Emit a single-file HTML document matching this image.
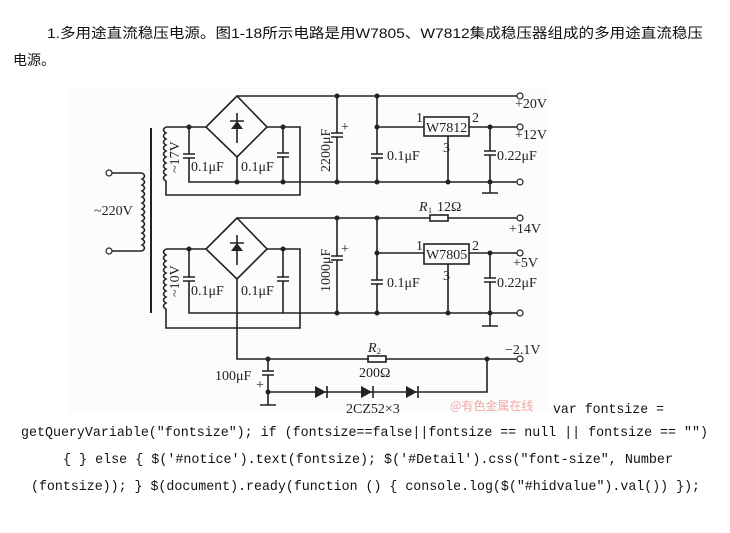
<!DOCTYPE html>
<html><head><meta charset="utf-8"><style>
html,body{margin:0;padding:0;background:#fff;width:730px;height:533px;overflow:hidden}
</style></head><body>
<svg width="730" height="533" viewBox="0 0 730 533" xmlns="http://www.w3.org/2000/svg">
<rect x="68" y="88" width="482" height="325" fill="#fcfcfc"/>
<g font-family="'Liberation Sans','Noto Sans CJK SC',sans-serif" font-size="14" fill="#111">
<text x="47" y="38" textLength="656" lengthAdjust="spacingAndGlyphs">1.多用途直流稳压电源。图1-18所示电路是用W7805、W7812集成稳压器组成的多用途直流稳压</text>
<text x="13" y="65" textLength="42" lengthAdjust="spacingAndGlyphs">电源。</text>
</g>
<g font-family="'Liberation Mono',monospace" font-size="14" fill="#111">
<text x="553" y="413" textLength="111" lengthAdjust="spacingAndGlyphs">var fontsize =</text>
<text x="21" y="436" textLength="687" lengthAdjust="spacingAndGlyphs">getQueryVariable("fontsize"); if (fontsize==false||fontsize == null || fontsize == "")</text>
<text x="63" y="463" textLength="610" lengthAdjust="spacingAndGlyphs">{ } else { $('#notice').text(fontsize); $('#Detail').css("font-size", Number</text>
<text x="31" y="490" textLength="669" lengthAdjust="spacingAndGlyphs">(fontsize)); } $(document).ready(function () { console.log($("#hidvalue").val()) });</text>
</g>
<text x="450" y="410" font-family="'Noto Sans CJK SC',sans-serif" font-size="12" fill="#f0a8a8">@有色金属在线</text>

<g stroke="#222" stroke-width="1.6" fill="none">
<path d="M109 173 H142 M109 251 H142"/>
<path d="M142 173 q5 3 0 6 q5 3 0 6 q5 3 0 6 q5 3 0 6 q5 3 0 6 q5 3 0 6 q5 3 0 6 q5 3 0 6 q5 3 0 6 q5 3 0 6 q5 3 0 6 q5 3 0 6 q5 3 0 6"/>
<path d="M151 128 V313" stroke-width="2"/>
<path d="M166 127 q-5 3 0 6 q-5 3 0 6 q-5 3 0 6 q-5 3 0 6 q-5 3 0 6 q-5 3 0 6 q-5 3 0 6 q-5 3 0 6 q-5 3 0 6 V195 H300 V127 H267"/>
<path d="M166 127 H206"/>
<path d="M237 96 L206 127 L237 157 L267 127 Z"/>
<path d="M237 113 V143 M230 121 H244"/>
<path d="M189 127 V154 M189 158 V182 H520 M183 154 H195 M183 158 H195"/>
<path d="M283 127 V153 M283 157 V182 M277 153 H289 M277 157 H289"/>
<path d="M237 157 V182"/>
<path d="M237 96 H520"/>
<path d="M337 96 V133 M337 137 V182 M331 133 H343 M331 137 H343"/>
<path d="M377 96 V154 M377 158 V182 M371 154 H383 M371 158 H383 M377 127 H424"/>
<rect x="424" y="117" width="45" height="19"/>
<path d="M448 136 V182 M469 127 H520"/>
<path d="M490 127 V151 M490 155 V193 M484 151 H496 M484 155 H496 M482 193 H498"/>
<path d="M166 249 q-5 3 0 6 q-5 3 0 6 q-5 3 0 6 q-5 3 0 6 q-5 3 0 6 q-5 3 0 6 q-5 3 0 6 q-5 3 0 6 q-5 3 0 6 q-5 3 0 6 V328 H300 V249 H267"/>
<path d="M166 249 H206"/>
<path d="M237 218 L206 249 L237 279 L267 249 Z"/>
<path d="M237 235 V265 M230 243 H244"/>
<path d="M189 249 V277 M189 281 V313 H520 M183 277 H195 M183 281 H195"/>
<path d="M283 249 V277 M283 281 V313 M277 277 H289 M277 281 H289"/>
<path d="M237 279 V359 H520"/>
<path d="M237 218 H430 M448 218 H520"/>
<rect x="430" y="215" width="18" height="6"/>
<path d="M337 218 V256 M337 260 V313 M331 256 H343 M331 260 H343"/>
<path d="M377 218 V280 M377 284 V313 M371 280 H383 M371 284 H383 M377 253 H424"/>
<rect x="424" y="244" width="45" height="20"/>
<path d="M448 264 V313 M469 253 H520"/>
<path d="M490 253 V278 M490 282 V326 M484 278 H496 M484 282 H496 M482 326 H498"/>
<rect x="368" y="356" width="18" height="6"/>
<path d="M268 359 V371 M268 375 V405 M262 371 H274 M262 375 H274 M260 405 H276"/>
<path d="M268 392 H487 V359"/>
</g>
<g fill="#fff">
<rect x="369" y="357" width="16" height="4"/>
<rect x="431" y="216" width="16" height="4"/>
</g>
<g fill="#222">
<path d="M237 121 L231 129 H243 Z"/>
<path d="M237 243 L231 251 H243 Z"/>
<path d="M315 386 L326 392 L315 398 Z M361 386 L372 392 L361 398 Z M406 386 L417 392 L406 398 Z"/>
</g>
<path d="M327 386 V398 M373 386 V398 M418 386 V398" stroke="#222" stroke-width="1.6"/>
<g fill="#222">
<circle cx="189" cy="127" r="2.5"/><circle cx="283" cy="127" r="2.5"/>
<circle cx="237" cy="182" r="2.5"/><circle cx="283" cy="182" r="2.5"/><circle cx="337" cy="182" r="2.5"/><circle cx="377" cy="182" r="2.5"/><circle cx="448" cy="182" r="2.5"/><circle cx="490" cy="182" r="2.5"/>
<circle cx="337" cy="96" r="2.5"/><circle cx="377" cy="96" r="2.5"/><circle cx="377" cy="127" r="2.5"/><circle cx="490" cy="127" r="2.5"/>
<circle cx="189" cy="249" r="2.5"/><circle cx="283" cy="249" r="2.5"/>
<circle cx="337" cy="218" r="2.5"/><circle cx="377" cy="218" r="2.5"/><circle cx="377" cy="253" r="2.5"/><circle cx="490" cy="253" r="2.5"/>
<circle cx="337" cy="313" r="2.5"/><circle cx="377" cy="313" r="2.5"/><circle cx="448" cy="313" r="2.5"/><circle cx="490" cy="313" r="2.5"/>
<circle cx="268" cy="359" r="2.5"/><circle cx="487" cy="359" r="2.5"/><circle cx="268" cy="392" r="2.5"/>
</g>
<g fill="#fff" stroke="#222" stroke-width="1.2">
<circle cx="520" cy="96" r="3"/><circle cx="520" cy="127" r="3"/><circle cx="520" cy="182" r="3"/>
<circle cx="520" cy="218" r="3"/><circle cx="520" cy="253" r="3"/><circle cx="520" cy="313" r="3"/><circle cx="520" cy="359" r="3"/>
<circle cx="109" cy="173" r="3"/><circle cx="109" cy="251" r="3"/>
</g>
<g font-family="'Liberation Serif',serif" font-size="14" fill="#222">
<text x="94" y="215">~220V</text>
<text x="515" y="108">+20V</text>
<text x="515" y="139">+12V</text>
<text x="497" y="160">0.22μF</text>
<text x="387" y="160">0.1μF</text>
<text x="191" y="171">0.1μF</text>
<text x="241" y="171">0.1μF</text>
<text x="426" y="132">W7812</text>
<text x="416" y="122">1</text><text x="472" y="122">2</text><text x="443" y="152">3</text>
<text x="341" y="131">+</text>
<text transform="translate(330,172) rotate(-90)">2200μF</text>
<text transform="translate(179,173) rotate(-90)">~17V</text>
<text x="419" y="211" font-style="italic">R</text><text x="428" y="213" font-size="8">1</text>
<text x="437" y="211">12Ω</text>
<text x="509" y="233">+14V</text>
<text x="513" y="267">+5V</text>
<text x="497" y="287">0.22μF</text>
<text x="387" y="287">0.1μF</text>
<text x="191" y="295">0.1μF</text>
<text x="241" y="295">0.1μF</text>
<text x="426" y="259">W7805</text>
<text x="416" y="250">1</text><text x="472" y="250">2</text><text x="443" y="280">3</text>
<text x="341" y="253">+</text>
<text transform="translate(330,292) rotate(-90)">1000μF</text>
<text transform="translate(179,297) rotate(-90)">~10V</text>
<text x="505" y="354">−2.1V</text>
<text x="368" y="352" font-style="italic">R</text><text x="377" y="354" font-size="8">2</text>
<text x="359" y="377">200Ω</text>
<text x="215" y="380">100μF</text>
<text x="256" y="389">+</text>
<text x="346" y="413">2CZ52×3</text>
</g>
</svg>
</body></html>
